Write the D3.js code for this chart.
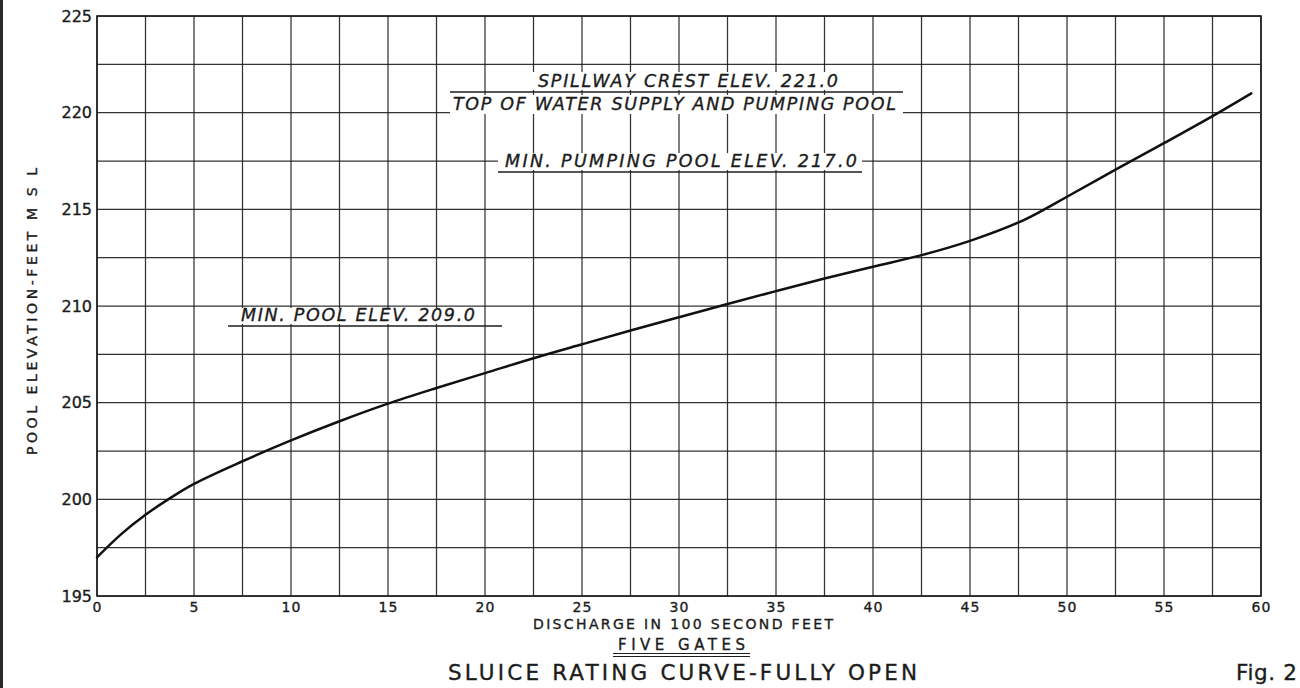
<!DOCTYPE html>
<html>
<head>
<meta charset="utf-8">
<script src="https://cdn.jsdelivr.net/npm/d3@7"></script>
<style>
  html, body { margin: 0; padding: 0; background: #ffffff; }
  svg { display: block; }
  text { font-family: "DejaVu Sans", "Liberation Sans", sans-serif; fill: #1c1c1c; stroke: #1c1c1c; stroke-width: 0.35px; }
</style>
</head>
<body>
<svg id="chart" width="1300" height="688"></svg>
<script>
// Sluice rating curve, five gates fully open
// discharge in hundreds of second-feet, pool elevation in feet MSL
const discharge = [0, 1.25, 2.5, 3.75, 5, 7.5, 10, 12.5, 15, 17.5, 20, 22.5, 25, 27.5, 30,
                   32.5, 35, 37.5, 40, 42.5, 45, 47.5, 48.75, 50, 52.5, 55, 57.5, 59.5];
const elevation = [197.0, 198.2, 199.2, 200.05, 200.8, 201.97, 203.05, 204.04, 204.95, 205.76,
                   206.53, 207.3, 208.02, 208.73, 209.42, 210.1, 210.77, 211.42, 212.03,
                   212.63, 213.37, 214.32, 214.95, 215.65, 217.05, 218.42, 219.82, 221.0];

const xTickValues = [0, 5, 10, 15, 20, 25, 30, 35, 40, 45, 50, 55, 60];
const yTickValues = [195, 200, 205, 210, 215, 220, 225];
const gridStep = 2.5;

const xTitle = "DISCHARGE IN 100 SECOND FEET";
const yTitle = "POOL ELEVATION-FEET M S L";
const subTitle = "FIVE GATES";
const mainTitle = "SLUICE RATING CURVE-FULLY OPEN";
const figLabel = "Fig. 2";

const noteSpillway = "SPILLWAY CREST ELEV. 221.0";
const noteTopPool = "TOP OF WATER SUPPLY AND PUMPING POOL";
const noteMinPumping = "MIN. PUMPING POOL ELEV. 217.0";
const noteMinPool = "MIN. POOL ELEV. 209.0";

const svg = d3.select("#chart");
const ink = "#1e1e1e";

const x = d3.scaleLinear().domain([0, 60]).range([97, 1261]);
const y = d3.scaleLinear().domain([195, 225]).range([596, 16]);

// sheet edge
svg.append("rect").attr("x", 0).attr("y", 0).attr("width", 3).attr("height", 688).attr("fill", "#2a2a2a");

// grid
const grid = svg.append("g").attr("stroke", ink).attr("stroke-width", 1.25).attr("stroke-opacity", 0.9);
const xGrid = d3.range(0, 60 + 1e-6, gridStep);
const yGrid = d3.range(195, 225 + 1e-6, gridStep);
grid.selectAll("line.v").data(xGrid).join("line").attr("class", "v")
  .attr("x1", d => x(d)).attr("x2", d => x(d))
  .attr("y1", y(225)).attr("y2", y(195));
grid.selectAll("line.h").data(yGrid).join("line").attr("class", "h")
  .attr("x1", x(0)).attr("x2", x(60))
  .attr("y1", d => y(d)).attr("y2", d => y(d));

// frame
svg.append("rect").attr("x", x(0)).attr("y", y(225))
  .attr("width", x(60) - x(0)).attr("height", y(195) - y(225))
  .attr("fill", "none").attr("stroke", ink).attr("stroke-width", 1.6);

// axes (labels only)
const xAxis = svg.append("g").attr("transform", `translate(0,${y(195)})`)
  .call(d3.axisBottom(x).tickValues(xTickValues).tickSize(0).tickPadding(6));
xAxis.select(".domain").remove();
xAxis.selectAll("text").attr("font-size", 14).attr("letter-spacing", 1)
  .style("font-family", '"DejaVu Sans", sans-serif').attr("fill", ink);

const yAxis = svg.append("g").attr("transform", `translate(${x(0)},0)`)
  .call(d3.axisLeft(y).tickValues(yTickValues).tickSize(0).tickPadding(5));
yAxis.select(".domain").remove();
yAxis.selectAll("text").attr("font-size", 16)
  .style("font-family", '"DejaVu Sans", sans-serif').attr("fill", ink);

// annotations with knocked-out background
function note(text, x1, baseline, width, boxX1, boxX2, boxTop, boxBottom) {
  svg.append("rect").attr("x", boxX1).attr("y", boxTop)
    .attr("width", boxX2 - boxX1).attr("height", boxBottom - boxTop).attr("fill", "#fff");
  svg.append("text").attr("x", x1).attr("y", baseline)
    .attr("font-size", 17.5).attr("font-style", "italic")
    .attr("textLength", width).attr("lengthAdjust", "spacing")
    .text(text);
}
function rule(x1, x2, yy) {
  svg.append("line").attr("x1", x1).attr("x2", x2).attr("y1", yy).attr("y2", yy)
    .attr("stroke", ink).attr("stroke-width", 1.5);
}
note(noteSpillway, 538, 87, 300, 530, 846, 72, 90);
rule(450, 903, 92);
note(noteTopPool, 453, 110, 443, 450, 903, 95, 114);
note(noteMinPumping, 505, 167, 352, 498, 862, 153, 170);
rule(498, 862, 172);
note(noteMinPool, 241, 321, 234, 236, 482, 308, 324);
rule(228, 502, 326);

// rating curve
const pts = discharge.map((d, i) => [d, elevation[i]]);
svg.append("path").datum(pts)
  .attr("fill", "none").attr("stroke", "#111").attr("stroke-width", 2.5)
  .attr("stroke-linecap", "round")
  .attr("d", d3.line().x(d => x(d[0])).y(d => y(d[1])).curve(d3.curveCatmullRom.alpha(0.5)));

// titles
svg.append("text").attr("x", 533).attr("y", 629)
  .attr("font-size", 14).attr("textLength", 300).attr("lengthAdjust", "spacing")
  .text(xTitle);

svg.append("text").attr("x", 618).attr("y", 650)
  .attr("font-size", 15).attr("textLength", 127).attr("lengthAdjust", "spacing")
  .text(subTitle);
svg.append("line").attr("x1", 613).attr("x2", 750).attr("y1", 653.5).attr("y2", 653.5)
  .attr("stroke", ink).attr("stroke-width", 1.2);
svg.append("line").attr("x1", 613).attr("x2", 750).attr("y1", 656.5).attr("y2", 656.5)
  .attr("stroke", ink).attr("stroke-width", 1.2);

svg.append("text").attr("x", 448).attr("y", 680)
  .attr("font-size", 21.5).attr("textLength", 469).attr("lengthAdjust", "spacing")
  .text(mainTitle);

svg.append("text").attr("x", 1236).attr("y", 680)
  .attr("font-size", 21.5).attr("textLength", 61).attr("lengthAdjust", "spacing")
  .text(figLabel);

svg.append("text")
  .attr("transform", "translate(37,455) rotate(-90)")
  .attr("font-size", 14).attr("textLength", 287).attr("lengthAdjust", "spacing")
  .text(yTitle);
</script>
</body>
</html>
